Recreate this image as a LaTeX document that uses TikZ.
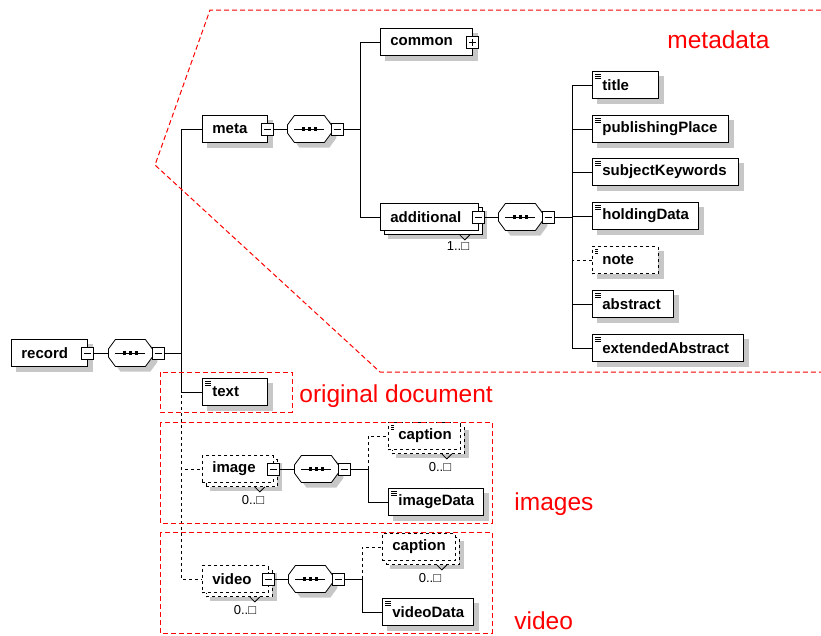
\documentclass[tikz,border=0pt]{standalone}
\usepackage{fontspec}
\setmainfont{Liberation Sans}
\usetikzlibrary{backgrounds}

\definecolor{zonered}{RGB}{255,0,0}
\colorlet{shadowgray}{black!22}

\newcommand{\boxfont}{\fontsize{15}{16}\selectfont\bfseries}
\newcommand{\multfont}{\fontsize{13}{14}\selectfont}
\newcommand{\zonefont}{\fontsize{24.5}{26}\selectfont}

\tikzset{
  box/.style={draw, fill=white, line width=.8pt, anchor=west,
    minimum height=27pt, inner sep=0pt, text width=#1, align=left,
    font=\boxfont, execute at begin node={\hspace*{10pt}}},
  elem/.style={box=#1},
  multi/.style={box=#1,
    preaction={draw, fill=white, transform canvas={shift={(4pt,-4pt)}}}},
  opt/.style={dashed},
  leaf/.style={path picture={
    \foreach \k in {0,1,2}
      \draw[line width=.6pt] ([xshift=3pt,yshift={-3pt-\k*2pt}]path picture bounding box.north west) -- +(6pt,0);}},
  fold/.style={draw, fill=white, line width=.8pt, minimum size=12pt, inner sep=0pt,
    path picture={\draw[line width=.8pt] ([xshift=-3.5pt]path picture bounding box.center) -- ([xshift=3.5pt]path picture bounding box.center);}},
  unfold/.style={fold, path picture={
    \draw[line width=.8pt] ([xshift=-3.5pt]path picture bounding box.center) -- ([xshift=3.5pt]path picture bounding box.center);
    \draw[line width=.8pt] ([yshift=-3.5pt]path picture bounding box.center) -- ([yshift=3.5pt]path picture bounding box.center);}},
  octagon/.style={insert path={-- ++(7,-9.5) -- ++(30,0) -- ++(7,9.5) -- ++(0,8)
    -- ++(-7,9.5) -- ++(-30,0) -- ++(-7,-9.5) -- cycle}},
  seq/.style={minimum width=44pt, minimum height=27pt, inner sep=0pt, anchor=west,
    append after command={\pgfextra{
      \filldraw[fill=white, line width=.8pt] ([shift={(-22pt,4pt)}]\tikzlastnode.center) [octagon];
      \draw[line width=.8pt] ([xshift=-15pt]\tikzlastnode.center) -- ([xshift=15pt]\tikzlastnode.center);
      \foreach \k in {-6,0,6}
        \fill ([shift={(\k*1pt-1.8pt,-1.6pt)}]\tikzlastnode.center) rectangle +(3.6pt,3.2pt);}}},
  mult/.style={font=\multfont, inner sep=0pt},
  zone/.style={draw=zonered, line width=1pt, dash pattern=on 5pt off 3pt},
  zonelabel/.style={text=zonered, font=\zonefont, inner sep=0pt, anchor=west}
}

\begin{document}
\begin{tikzpicture}[x=1pt,y=-1pt,line width=.8pt]
  \useasboundingbox (0,0) rectangle (821,635);

  % metadata part
  \node[elem=76pt] (rec) at (11,353) {record};
  \node[fold] (recm) at (rec.east) {};
  \node[seq] (s1) at (108,353) {};
  \node[fold, anchor=west] (s1m) at ([xshift=-1pt]s1.east) {};
  \coordinate (j1) at (181,353);

  \node[elem=65pt] (meta) at (202,129) {meta};
  \node[fold] (metam) at (meta.east) {};
  \node[seq] (s2) at (287,129) {};
  \node[fold, anchor=west] (s2m) at ([xshift=-1pt]s2.east) {};
  \coordinate (j2) at (360,129);

  \node[elem=92pt] (common) at (380,42) {common};
  \node[unfold] (commp) at (common.east) {};
  \node[multi=98pt] (additional) at (380,217) {additional};
  \node[fold] (addm) at (additional.east) {};
  \node[mult] (addmult) at (458,246) {1..□};
  \node[seq] (s3) at (498,217) {};
  \node[fold, anchor=west] (s3m) at ([xshift=-1pt]s3.east) {};
  \coordinate (j3) at (572,217);

  \node[elem=66pt, leaf] (title) at (592,85) {title};
  \node[elem=136pt, leaf] (place) at (592,129) {publishingPlace};
  \node[elem=146pt, leaf] (keywords) at (592,172) {subjectKeywords};
  \node[elem=106pt, leaf] (holding) at (592,216) {holdingData};
  \node[elem=66pt, leaf, opt] (note) at (592,260) {note};
  \node[elem=81pt, leaf] (abstract) at (592,304) {abstract};
  \node[elem=151pt, leaf] (extabstract) at (592,348) {extendedAbstract};

  % text, images, video
  \node[elem=65pt, leaf] (text) at (202,392) {text};

  \node[multi=71pt, opt] (image) at (202,469) {image};
  \node[fold] (imgm) at (image.east) {};
  \node[mult] (imgmult) at (253,500) {0..□};
  \node[seq] (s4) at (294,469) {};
  \node[fold, anchor=west] (s4m) at ([xshift=-1pt]s4.east) {};
  \coordinate (j4) at (368,469);
  \node[multi=72pt, opt, leaf] (icap) at (388,436) {caption};
  \node[mult] (icapmult) at (440,467) {0..□};
  \node[elem=95pt, leaf] (idata) at (388,502) {imageData};

  \node[multi=66pt, opt] (video) at (202,579) {video};
  \node[fold] (vidm) at (video.east) {};
  \node[mult] (vidmult) at (245,610) {0..□};
  \node[seq] (s5) at (288,579) {};
  \node[fold, anchor=west] (s5m) at ([xshift=-1pt]s5.east) {};
  \coordinate (j5) at (362,579);
  \node[multi=73pt, opt] (vcap) at (382,547) {caption};
  \node[mult] (vcapmult) at (430,578) {0..□};
  \node[elem=91pt, leaf] (vdata) at (382,612) {videoData};

  % shadows
  \begin{scope}[on background layer]
    \foreach \n in {rec,meta,common,title,place,keywords,holding,note,abstract,extabstract,text,idata,vdata}
      \fill[shadowgray] ([shift={(5pt,-5pt)}]\n.south west) rectangle ([shift={(5pt,-5pt)}]\n.north east);
    \foreach \n in {additional,image,icap,video,vcap}
      \fill[shadowgray] ([shift={(8pt,-8pt)}]\n.south west) rectangle ([shift={(8pt,-8pt)}]\n.north east);
    \foreach \n in {s1,s2,s3,s4,s5}
      \fill[shadowgray] ([shift={(-17pt,-1pt)}]\n.center) [octagon];
  \end{scope}

  \foreach \n in {additional,image,icap,video,vcap}
    \draw ([xshift=-19pt,yshift=-4pt]\n.south east) -- ++(5,5) -- ++(5,-5);

  \draw (recm) -- (s1);
  \foreach \from/\to in {s1m/j1,metam/s2,s2m/j2,addm/s3,s3m/j3,imgm/s4,s4m/j4,vidm/s5,s5m/j5}
    \draw (\from) -- (\to);
  \foreach \from/\to in {j1/meta,j1/text,j2/common,j2/additional,j3/title,j3/place,j3/keywords,
      j3/holding,j3/abstract,j3/extabstract,j4/idata,j5/vdata}
    \draw (\from) |- (\to);
  \foreach \from/\to in {j1/image,j1/video,j3/note,j4/icap,j5/vcap}
    \draw[dashed] (\from) |- (\to);

  % red zones
  \draw[zone] (821,10) -- (210,10) -- (155,165) -- (380,372) -- (821,372);
  \draw[zone] (160,372) rectangle (292,412);
  \draw[zone] (160,422) rectangle (492,523);
  \draw[zone] (160,532) rectangle (492,633);

  \node[zonelabel] (lmeta) at (667,40) {metadata};
  \node[zonelabel] (lorig) at (299,396) {original document};
  \node[zonelabel] (limg) at (514,504) {images};
  \node[zonelabel] (lvid) at (514,621) {video};
\end{tikzpicture}
\end{document}
